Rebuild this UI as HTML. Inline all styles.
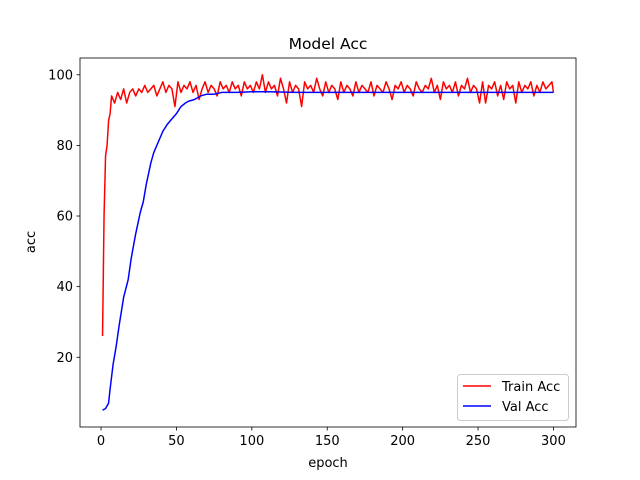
<!DOCTYPE html>
<html><head><meta charset="utf-8">
<style>
body{margin:0;background:#fff;}
svg{display:block;font-family:"DejaVu Sans","Liberation Sans",sans-serif;}
</style></head>
<body>
<svg id="chart" width="640" height="480" viewBox="0 0 640 480">
<rect width="640" height="480" fill="#fff"/>
<text x="328" y="49" font-size="15.5" text-anchor="middle">Model Acc</text>
<g id="plot"></g>
<g id="axes"></g>
<text x="328" y="467" font-size="13" text-anchor="middle">epoch</text>
<text x="35" y="242" font-size="13" text-anchor="middle" transform="rotate(-90 35 242)">acc</text>
<g>
<rect x="457.5" y="374.5" width="111" height="46" rx="3" fill="#fff" fill-opacity="0.8" stroke="#ccc"/>
<g>
<line x1="463" y1="386" x2="491" y2="386" stroke="red" stroke-width="1.5"/>
<text x="502" y="391" font-size="13">Train Acc</text></g>
<g>
<line x1="463" y1="406" x2="491" y2="406" stroke="blue" stroke-width="1.5"/>
<text x="502" y="411" font-size="13">Val Acc</text></g>
</g>
</svg>
<script>
const trainEpochs=[1,2,3,4,5,6,7,9,11,13,15,17,19,21,23,25,27,29,31,33,35,37,39,41,43,45,47,49,51,53,55,57,59,61,63,65,67,69,71,73,75,77,79,81,83,85,87,89,91,93,95,97,99,101,103,105,107,109,111,113,115,117,119,121,123,125,127,129,131,133,135,137,139,141,143,145,147,149,151,153,155,157,159,161,163,165,167,169,171,173,175,177,179,181,183,185,187,189,191,193,195,197,199,201,203,205,207,209,211,213,215,217,219,221,223,225,227,229,231,233,235,237,239,241,243,245,247,249,251,253,255,257,259,261,263,265,267,269,271,273,275,277,279,281,283,285,287,289,291,293,295,297,299,300];
const trainAcc=[26,60,77,80,87,89,94,92,95,93,96,92,95,96,94,96,95,97,95,96,97,94,96,98,95,97,96,91,98,95,97,96,98,95,97,93,96,98,95,97,96,94,98,96,97,95,98,96,97,94,98,96,97,95,98,96,100,95,98,96,97,94,99,96,92,98,95,97,96,91,98,96,97,95,99,96,94,98,95,97,96,93,98,95,97,96,94,98,95,97,96,95,98,94,97,96,95,98,96,93,97,96,98,95,97,96,94,98,96,95,97,96,99,95,97,93,98,96,97,95,98,94,97,96,99,95,97,96,92,98,92,97,96,98,94,97,93,98,96,97,92,98,95,97,96,98,94,97,95,98,96,97,98,95];
const valEpochs=[1,3,5,6,8,10,12,15,18,20,23,26,28,30,33,35,38,41,44,47,50,53,56,58,62,66,70,75,80,90,100,110,130,160,200,250,300];
const valAcc=[5,5.5,7,11,18,23,29,37,42,48,55,61,64,69,75,78,81,84,86,87.5,89,91,92,92.5,93,94,94.5,94.5,95,95,95.2,95.2,95,95,95,95,95];
const xTicks=[0,50,100,150,200,250,300];
const yTicks=[20,40,60,80,100];
const L=80,R=576,T=58,B=427,xmin=-13.95,xmax=314.95,ymin=0.25,ymax=104.75;
const xs=v=>L+(v-xmin)/(xmax-xmin)*(R-L);
const ys=v=>B-(v-ymin)/(ymax-ymin)*(B-T);
const NS="http://www.w3.org/2000/svg";
const plot=document.getElementById('plot'),axes=document.getElementById('axes');
function mk(t,a,p){const e=document.createElementNS(NS,t);for(const k in a)e.setAttribute(k,a[k]);p.appendChild(e);return e;}
function line(xsA,ysA,color,name){
const e=mk('polyline',{points:xsA.map((x,i)=>xs(x).toFixed(2)+','+ys(ysA[i]).toFixed(2)).join(' '),fill:'none',stroke:color,'stroke-width':1.5,'stroke-linejoin':'round'},plot);

}
line(trainEpochs,trainAcc,'red','train-acc-line');
line(valEpochs,valAcc,'blue','val-acc-line');
mk('rect',{x:L,y:T,width:R-L,height:B-T,fill:'none',stroke:'#000','stroke-width':0.8},axes);
xTicks.forEach(v=>{const x=xs(v);
mk('line',{x1:x,y1:B,x2:x,y2:B+3.5,stroke:'#000','stroke-width':0.8},axes);
const t=mk('text',{x:x,y:B+18,'font-size':13,'text-anchor':'middle'},axes);t.textContent=v;

});
yTicks.forEach(v=>{const y=ys(v);
mk('line',{x1:L-3.5,y1:y,x2:L,y2:y,stroke:'#000','stroke-width':0.8},axes);
const t=mk('text',{x:L-7,y:y+4.5,'font-size':13,'text-anchor':'end'},axes);t.textContent=v;

});
</script>
</body></html>
